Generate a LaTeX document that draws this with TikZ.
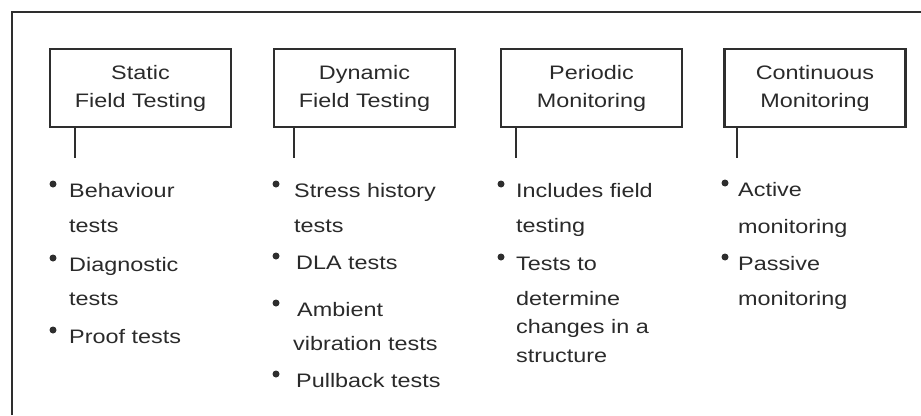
\documentclass[tikz,border=0pt]{standalone}
\usepackage{fontspec}
\setmainfont[FakeStretch=1.2]{Liberation Sans}
\definecolor{ink}{HTML}{2E2E2E}
\definecolor{txt}{HTML}{2A2A2A}

\begin{document}
\begin{tikzpicture}[x=1pt,y=-1pt,
  head/.style={draw=ink, line width=2.4pt, minimum width=181pt, minimum height=78pt,
               inner sep=0pt, align=center, text=txt,
               font=\fontsize{19.5}{28}\selectfont},
  item/.style={anchor=base west, inner sep=0pt, text=txt,
               font=\fontsize{19.5}{24}\selectfont},
  dot/.style={circle, fill=ink, minimum size=7pt, inner sep=0pt},
  stem/.style={draw=ink, line width=2.2pt},
  frame/.style={draw=ink, line width=2pt}]

\useasboundingbox (0,0) rectangle (921,415);

% open frame: top and left edges only
\coordinate (fbl) at (12,415);
\coordinate (ftl) at (12,12);
\coordinate (ftr) at (921,12);
\draw[frame] (fbl) -- (ftl) -- (ftr);

% category boxes
\node[head] (h1) at (140.5,88) {Static\\Field Testing};
\node[head] (h2) at (364.5,88) {Dynamic\\Field Testing};
\node[head] (h3) at (591.5,88) {Periodic\\Monitoring};
\node[head] (h4) at (815,88)   {Continuous\\Monitoring};

% short stems under the boxes
\coordinate (s1) at (75,158);
\coordinate (s2) at (294,158);
\coordinate (s3) at (516,158);
\coordinate (s4) at (737,158);
\draw[stem] (h1.south -| s1) -- (s1);
\draw[stem] (h2.south -| s2) -- (s2);
\draw[stem] (h3.south -| s3) -- (s3);
\draw[stem] (h4.south -| s4) -- (s4);

% static field testing
\node[dot] (d11) at (53,184) {};
\node[item] (t11) at (69,197) {Behaviour};
\node[item] (t12) at (69,232) {tests};
\node[dot] (d12) at (53,258) {};
\node[item] (t13) at (69,271) {Diagnostic};
\node[item] (t14) at (69,305) {tests};
\node[dot] (d13) at (53,330) {};
\node[item] (t15) at (69,343) {Proof tests};

% dynamic field testing
\node[dot] (d21) at (276,184) {};
\node[item] (t21) at (294,197) {Stress history};
\node[item] (t22) at (294,232) {tests};
\node[dot] (d22) at (276,256) {};
\node[item] (t23) at (296,269) {DLA tests};
\node[dot] (d23) at (276,303) {};
\node[item] (t24) at (297,316) {Ambient};
\node[item] (t25) at (293,350) {vibration tests};
\node[dot] (d24) at (276,374) {};
\node[item] (t26) at (296,387) {Pullback tests};

% periodic monitoring
\node[dot] (d31) at (501,184) {};
\node[item] (t31) at (516,197) {Includes field};
\node[item] (t32) at (516,232) {testing};
\node[dot] (d32) at (501,257) {};
\node[item] (t33) at (516,270) {Tests to};
\node[item] (t34) at (516,305) {determine};
\node[item] (t35) at (516,333) {changes in a};
\node[item] (t36) at (516,362) {structure};

% continuous monitoring
\node[dot] (d41) at (725,183) {};
\node[item] (t41) at (738,196) {Active};
\node[item] (t42) at (738,233) {monitoring};
\node[dot] (d42) at (725,257) {};
\node[item] (t43) at (738,270) {Passive};
\node[item] (t44) at (738,305) {monitoring};

\end{tikzpicture}
\end{document}
